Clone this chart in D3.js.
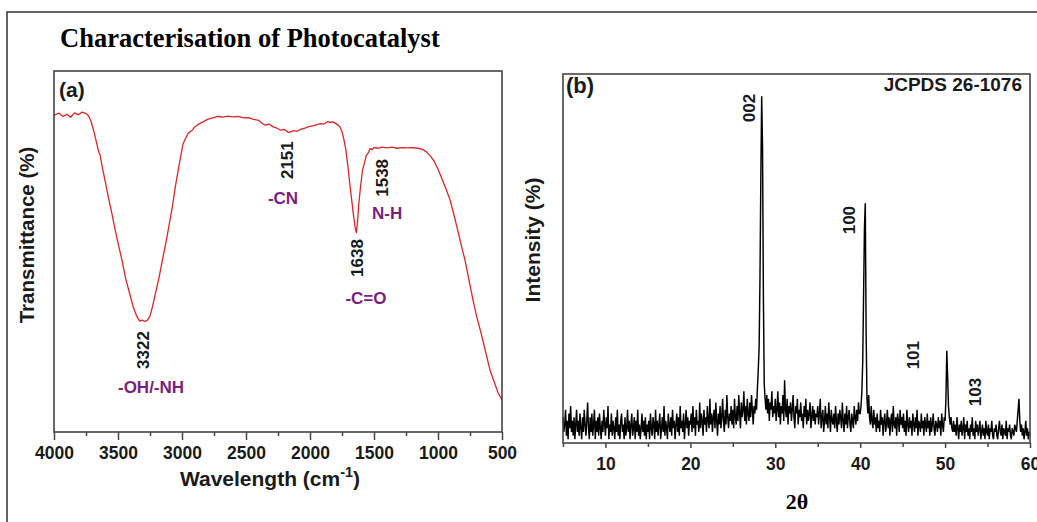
<!DOCTYPE html>
<html>
<head>
<meta charset="utf-8">
<script src="https://cdn.jsdelivr.net/npm/d3@7/dist/d3.min.js"></script>
<style>
  html, body { margin: 0; padding: 0; background: #fff; }
  svg { display: block; }
  text { font-family: "Liberation Sans", Arial, sans-serif; font-weight: bold; fill: #1a1a1a; }
</style>
</head>
<body>
<svg id="chart" width="1037" height="522"></svg>
<script>
// ---------- Panel (a): FTIR ----------
const ftirWavenumber = [4000,3960,3930,3900,3870,3840,3810,3780,3750,3730,3710,3690,3670,3650,3640,3620,3600,3575,3550,3525,3500,3469,3440,3410,3380,3350,3330,3310,3290,3270,3250,3230,3210,3180,3148,3120,3100,3075,3050,3020,2992,2970,2950,2920,2900,2870,2836,2800,2760,2720,2680,2640,2600,2560,2520,2480,2440,2400,2370,2350,2320,2290,2260,2230,2200,2170,2151,2130,2100,2070,2040,2010,1980,1950,1920,1890,1860,1844,1820,1800,1780,1766,1750,1735,1720,1705,1690,1675,1660,1648,1638,1628,1618,1605,1590,1575,1560,1545,1531,1515,1500,1470,1440,1400,1360,1320,1280,1240,1200,1160,1120,1090,1060,1030,1000,970,940,906,880,850,820,789,760,727,700,660,630,594,560,530,500];
const ftirTransmittance = [87.8,88.3,87.4,88.0,87.2,88.4,87.9,88.6,88.2,87.6,86.0,83.5,80.5,77.5,76.8,72.8,69.5,65.0,60.9,56.5,52.4,47.6,42.5,38.5,34.5,31.8,30.7,31.0,30.6,31.0,32.1,34.8,38.0,42.7,48.5,53.5,57.5,62.5,68.4,74.5,79.8,81.5,82.8,83.6,84.5,85.3,85.9,86.6,87.0,87.4,87.2,87.5,87.3,87.4,87.0,87.1,86.6,86.3,85.4,85.0,85.3,84.6,84.2,83.6,83.8,83.0,83.1,83.5,83.3,83.9,84.2,84.6,84.8,85.1,85.4,85.3,86.0,85.8,85.9,85.5,85.0,84.5,83.2,81.0,78.2,74.0,69.0,64.5,60.0,56.8,55.2,58.5,63.5,68.0,72.5,74.5,76.6,77.3,78.5,78.2,78.8,78.6,78.9,78.7,78.9,78.6,78.8,78.7,78.8,78.6,78.3,77.6,76.5,75.0,72.8,70.2,67.6,64.3,60.8,56.5,52.0,47.6,42.5,36.6,32.3,26.9,22.5,17.2,13.8,10.8,8.9];
const ftirMajorTicks = [4000,3500,3000,2500,2000,1500,1000,500];
const ftirMinorTicks = [3750,3250,2750,2250,1750,1250,750];
// peak annotations (data coordinates of label centres)
const ftirPeakLabels = ["3322","2151","1638","1538"];
const ftirPeakLabelWn = [3305,2180,1633,1438];
const ftirPeakLabelT  = [22.7,75.3,48.2,70.4];
const ftirGroupLabels = ["-OH/-NH","-CN","-C=O","N-H"];
const ftirGroupLabelWn = [3242,2211,1563,1398];
const ftirGroupLabelT  = [12.5,64.8,37.1,60.7];

// ---------- Panel (b): XRD (2θ from 5.0 to 60.0, step 0.1) ----------
const xrdStart = 5, xrdStep = 0.1;
const xrdIntensity = [
 // 5.0 - 9.9
 7,3,5,9,2,6,1,8,4,10,3,6,2,7,1,5,9,3,6,2,
 8,4,1,7,3,9,5,2,6,11,4,1,7,3,8,2,5,9,1,6,
 3,7,2,8,4,1,6,3,9,5,
 // 10.0 - 14.9
 2,7,4,10,1,5,3,8,2,6,4,1,7,3,9,2,5,1,6,8,
 3,5,1,7,2,4,9,3,6,1,5,8,2,4,7,1,6,3,9,2,
 5,1,4,8,3,6,2,7,1,5,
 // 15.0 - 19.9
 3,6,1,8,4,2,7,5,1,9,3,6,2,5,8,1,4,7,3,10,
 2,6,4,1,8,5,3,7,2,9,4,6,1,5,8,3,7,2,10,4,
 6,3,8,1,5,9,4,7,2,6,
 // 20.0 - 24.9
 5,8,3,10,4,7,2,9,5,6,3,11,4,8,6,2,9,5,7,3,
 10,6,4,12,5,8,3,7,9,4,11,6,2,8,5,10,4,7,12,6,
 3,9,5,13,7,4,8,6,10,5,
 // 25.0 - 27.9
 9,4,12,7,5,10,6,13,8,4,11,7,9,14,6,10,5,12,8,6,
 11,7,13,9,5,10,8,12,9,15,
 // 28.0 - 28.9 (002)
 20,26,45,72,94,80,40,16,12,9,
 // 29.0 - 29.9
 13,8,12,6,11,9,14,7,10,8,
 // 30.0 - 34.9
 12,6,9,14,7,11,5,10,8,13,
 6,17,9,7,12,5,10,8,11,6,
 9,13,7,4,10,8,12,5,9,7,
 11,6,8,4,10,7,12,5,9,6,
 8,11,4,7,10,6,9,5,8,7,
 // 35.0 - 39.9
 10,5,8,12,4,7,9,3,6,10,
 5,8,4,11,7,3,9,6,5,8,
 4,10,6,3,8,5,9,7,4,11,
 6,3,8,5,10,4,7,9,5,3,
 8,6,4,10,7,5,9,6,11,8,
 // 40.0 - 40.9 (100)
 8,10,14,22,40,58,65,30,12,8,
 // 41.0 - 41.9
 13,7,5,10,6,4,9,5,7,3,
 // 42.0 - 44.9
 8,4,6,3,9,5,7,2,6,8,
 3,5,9,4,7,2,6,8,3,10,
 5,4,7,2,8,6,3,9,5,7,
 // 45.0 - 49.9
 4,8,3,6,2,9,5,3,7,4,
 6,2,8,5,3,7,4,9,2,6,
 5,3,8,4,6,2,7,5,3,8,
 4,6,2,7,3,5,8,4,2,6,
 5,3,7,4,6,2,8,5,3,7,
 // 50.0 - 50.9 (101)
 6,12,25,18,10,7,5,7,4,3,
 // 51.0 - 54.9
 6,3,5,2,7,4,1,5,3,6,
 2,4,7,1,5,3,6,2,4,1,
 5,3,7,2,4,1,6,3,5,2,
 4,6,1,3,5,2,4,1,6,3,
 // 55.0 - 57.9
 2,5,1,4,3,6,2,1,4,3,
 5,2,1,4,6,3,2,5,1,4,
 3,2,6,1,4,3,5,2,1,4,
 // 58.0 - 58.9
 3,2,5,4,3,6,9,12,6,3,
 // 59.0 - 60.0
 5,2,4,1,3,6,2,4,1,3,2];
const xrdTwoTheta = xrdIntensity.map((_, i) => +(xrdStart + i * xrdStep).toFixed(1));
const xrdMajorTicks = [10,20,30,40,50,60];
const xrdMinorTicks = [5,15,25,35,45,55];
const xrdPeakLabels = ["002","100","101","103"];
const xrdPeakLabelX = [26.9,38.7,46.2,53.5];
const xrdPeakLabelY = [90.8,60.4,23.8,13.8];

// ---------- Drawing ----------
const svg = d3.select("#chart");
const frameColor = "#444";
const purple = "#7a1f7e";

// outer frame (top & left)
svg.append("path").attr("d", "M7,522V12H1037").attr("fill", "none").attr("stroke", "#333").attr("stroke-width", 1.5);

svg.append("text").attr("x", 60).attr("y", 47)
  .style("font-family", "'Liberation Serif','Times New Roman',serif").style("font-size", "26.5px").style("fill", "#000")
  .text("Characterisation of Photocatalyst");

function rotLabel(g, x, y, txt, size, color) {
  g.append("text").attr("transform", `translate(${x},${y}) rotate(-90)`)
    .attr("text-anchor", "middle").attr("dy", "0.35em")
    .style("font-size", size + "px").style("fill", color || "#1a1a1a").text(txt);
}

// ----- Panel A -----
const xA = d3.scaleLinear().domain([4000, 500]).range([54, 502]);
const yA = d3.scaleLinear().domain([0, 100]).range([432, 71]);
const gA = svg.append("g");

const axA = gA.append("g").attr("transform", "translate(0,432)")
  .call(d3.axisBottom(xA).tickValues(ftirMajorTicks).tickSize(8).tickPadding(7).tickSizeOuter(0).tickFormat(d3.format("d")));
axA.select(".domain").remove();
axA.selectAll("line").attr("stroke", frameColor).attr("stroke-width", 1.5);
axA.selectAll("text").style("font-size", "17.5px").style("font-family", "'Liberation Sans',Arial,sans-serif").attr("fill", "#1a1a1a");
const axAm = gA.append("g").attr("transform", "translate(0,432)")
  .call(d3.axisBottom(xA).tickValues(ftirMinorTicks).tickSize(4).tickFormat(""));
axAm.select(".domain").remove();
axAm.selectAll("line").attr("stroke", frameColor).attr("stroke-width", 1.5);

gA.append("path")
  .datum(ftirWavenumber.map((w, i) => [w, ftirTransmittance[i]]))
  .attr("fill", "none").attr("stroke", "#d8262a").attr("stroke-width", 1.3).attr("stroke-linejoin", "round")
  .attr("d", d3.line().x(d => xA(d[0])).y(d => yA(d[1])));

gA.append("rect").attr("x", 54).attr("y", 71).attr("width", 448).attr("height", 361)
  .attr("fill", "none").attr("stroke", frameColor).attr("stroke-width", 1.6);

gA.append("text").attr("x", 59).attr("y", 97).style("font-size", "21px").text("(a)");

ftirPeakLabels.forEach((t, i) => rotLabel(gA, xA(ftirPeakLabelWn[i]), yA(ftirPeakLabelT[i]), t, 17));
ftirGroupLabels.forEach((t, i) => {
  gA.append("text").attr("x", xA(ftirGroupLabelWn[i])).attr("y", yA(ftirGroupLabelT[i]))
    .attr("text-anchor", "middle").attr("dy", "0.35em").style("font-size", "17px").style("fill", purple).text(t);
});

const xl = gA.append("text").attr("x", 270).attr("y", 486).attr("text-anchor", "middle").style("font-size", "21px");
xl.append("tspan").text("Wavelength (cm");
xl.append("tspan").attr("dy", -9).style("font-size", "14.5px").text("-1");
xl.append("tspan").attr("dy", 9).text(")");

rotLabel(gA, 27, 235, "Transmittance (%)", 20.5);

// ----- Panel B -----
const xB = d3.scaleLinear().domain([5, 60]).range([563, 1030]);
const yB = d3.scaleLinear().domain([0, 100]).range([443, 74]);
const gB = svg.append("g");

const axB = gB.append("g").attr("transform", "translate(0,443)")
  .call(d3.axisBottom(xB).tickValues(xrdMajorTicks).tickSize(5).tickPadding(10).tickSizeOuter(0).tickFormat(d3.format("d")));
axB.select(".domain").remove();
axB.selectAll("line").attr("stroke", frameColor).attr("stroke-width", 1.5);
axB.selectAll("text").style("font-size", "17.5px").style("font-family", "'Liberation Sans',Arial,sans-serif").attr("fill", "#1a1a1a");
const axBm = gB.append("g").attr("transform", "translate(0,443)")
  .call(d3.axisBottom(xB).tickValues(xrdMinorTicks).tickSize(4).tickFormat(""));
axBm.select(".domain").remove();
axBm.selectAll("line").attr("stroke", frameColor).attr("stroke-width", 1.5);

gB.append("path")
  .datum(xrdTwoTheta.map((x, i) => [x, xrdIntensity[i]]))
  .attr("fill", "none").attr("stroke", "#000").attr("stroke-width", 1.45).attr("stroke-linejoin", "miter")
  .attr("d", d3.line().x(d => xB(d[0])).y(d => yB(d[1])));

gB.append("rect").attr("x", 563).attr("y", 74).attr("width", 467).attr("height", 369)
  .attr("fill", "none").attr("stroke", frameColor).attr("stroke-width", 1.6);

gB.append("text").attr("x", 566).attr("y", 93).style("font-size", "22px").text("(b)");
gB.append("text").attr("x", 1022).attr("y", 91).attr("text-anchor", "end").style("font-size", "19px").text("JCPDS 26-1076");

xrdPeakLabels.forEach((t, i) => rotLabel(gB, xB(xrdPeakLabelX[i]), yB(xrdPeakLabelY[i]), t, 17));

gB.append("text").attr("x", 797).attr("y", 509).attr("text-anchor", "middle")
  .style("font-family", "'Liberation Serif','Times New Roman',serif").style("font-size", "22px").style("fill", "#000").text("2θ");

rotLabel(gB, 533, 240, "Intensity (%)", 21);
</script>
</body>
</html>
